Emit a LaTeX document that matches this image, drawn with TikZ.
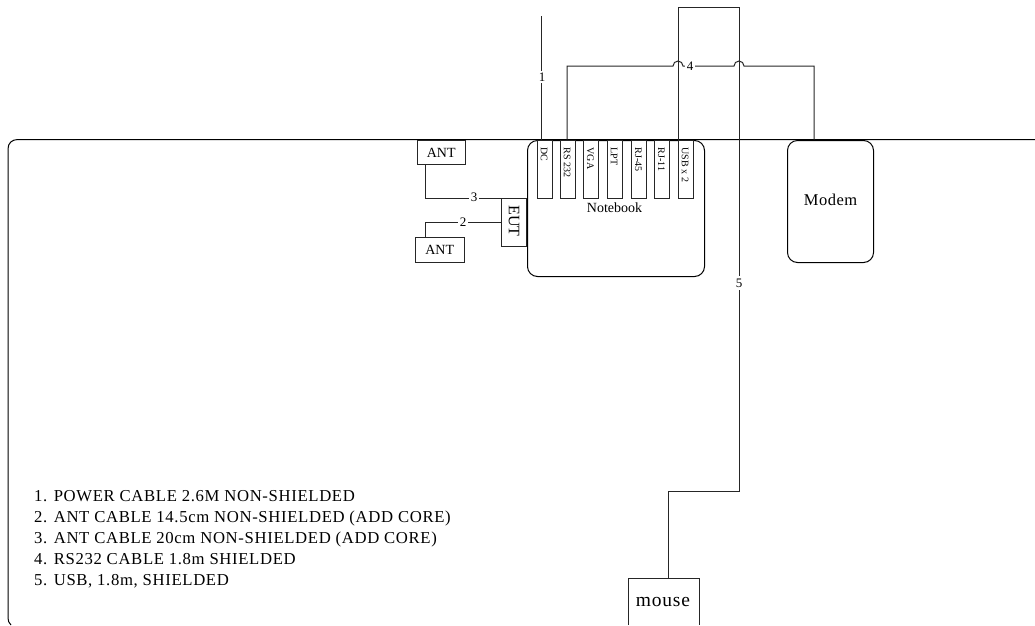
\documentclass[tikz,border=0pt]{standalone}
\usepackage{fontspec}
\setmainfont{Liberation Serif}
\newcommand{\fsz}[1]{\fontsize{#1}{#1}\selectfont}
\tikzset{
  wire/.style={draw=black!85,line width=1pt},
  boxnode/.style={draw=black!85,line width=1pt,fill=white,inner sep=0pt,anchor=north west},
  port/.style={boxnode,minimum width=15.5pt,minimum height=58pt},
  porttext/.style={rotate=-90,font=\fsz{10},inner sep=0pt},
  roundbox/.style={draw=black,line width=1pt,fill=white,rounded corners=10pt,inner sep=0pt,anchor=north west},
  wlabel/.style={fill=white,font=\fsz{13},inner sep=1.5pt},
}
\begin{document}
\begin{tikzpicture}[x=1pt,y=-1pt]
\useasboundingbox (0,0) rectangle (1035,625);
% outer frame
\coordinate (frameR) at (1035,139.5);
\coordinate (frameB) at (11,625);
\draw[draw=black,line width=1pt] (frameR) -- (18,139.5) .. controls (12,139.5) and (8,143) .. (8,149) -- (8,618) .. controls (8,621) and (9,623) .. (frameB);
% notebook and others
\node[roundbox,minimum width=177pt,minimum height=136pt] (nb) at (527,140) {};
\node[font=\fsz{14},inner sep=0pt] (nbt) at (614.5,207.5) {Notebook};
\node[roundbox,minimum width=86pt,minimum height=122pt] (modem) at (787,140) {};
\node[font=\fsz{16.5},inner sep=0pt] (modemt) at (830.5,200) {\addfontfeature{LetterSpace=3}Modem};
\node[font=\fsz{19.5},inner sep=0pt] (mouse) at (663,602) {\addfontfeature{LetterSpace=4}mouse};
\coordinate (mL) at (628,625);
\coordinate (mR) at (699,625);
\coordinate (mTL) at (628,578);
\coordinate (mTR) at (699,578);
\draw[wire] (mL) -- (mTL) -- (mTR) -- (mR);
% ports
\foreach \n/\x/\t in {dc/536.5/DC,rs/559.5/RS 232,vga/582.5/VGA,lpt/606.5/LPT,rja/630.5/RJ-45,rjb/653.5/RJ-11,usb/677.5/USB x 2}{
  \node[port] (\n) at (\x,140) {};
  \node[porttext,anchor=west] (\n t) at (\x+7.75,147.5) {\t};
}
% ants
\node[boxnode,minimum width=48.5pt,minimum height=24pt,font=\fsz{14}] (anta) at (416.5,140) {ANT};
\node[boxnode,minimum width=48.5pt,minimum height=25pt,font=\fsz{14}] (antb) at (415,237) {ANT};
\node[boxnode,minimum width=24.5pt,minimum height=48pt] (eut) at (501,198) {};
\node[rotate=-90,font=\fsz{16},inner sep=0pt] (euttext) at (514,221) {EUT};
% wire 1
\coordinate (w1top) at (541.5,16);
\draw[wire] (w1top) -- (541.5,140) coordinate (w1end);
\node[wlabel,inner xsep=1pt] (l1) at (542,77) {1};
% wire 4
\coordinate (w4a) at (567,66);
\coordinate (w4b) at (814,66);
\draw[wire] (567,139.5) -- (w4a) -- (673,66) arc[start angle=180,end angle=0,radius=5pt]
  -- (734,66) arc[start angle=180,end angle=0,radius=5pt] -- (w4b) -- (814,139.5);
\node[wlabel,inner ysep=0pt] (l4) at (690,66) {4};
% wire 5
\coordinate (w5a) at (678,7);
\coordinate (w5b) at (739,7);
\coordinate (w5c) at (739,491);
\coordinate (w5d) at (668,491);
\draw[wire] (678,140) -- (w5a) -- (w5b) -- (w5c) -- (w5d) -- (668,578);
\node[wlabel,inner xsep=1pt,inner ysep=3pt] (l5) at (739,283) {5};
% wire 3
\coordinate (w3a) at (425.5,198);
\draw[wire] (425.5,164) -- (w3a) -- (526,198);
\node[wlabel,inner ysep=0pt] (l3) at (474,197.5) {3};
% wire 2
\coordinate (w2a) at (425.5,222);
\draw[wire] (425.5,237) -- (w2a) -- (501,222);
\node[wlabel,inner ysep=0pt] (l2) at (463,222) {2};
% legend
\node[anchor=north west,align=left,font=\fontsize{16.7}{21}\selectfont\addfontfeature{LetterSpace=3.9},inner sep=0pt] (legend) at (34,490) {%
1. POWER CABLE 2.6M NON-SHIELDED\\
2. ANT CABLE 14.5cm NON-SHIELDED (ADD CORE)\\
3. ANT CABLE 20cm NON-SHIELDED (ADD CORE)\\
4. RS232 CABLE 1.8m SHIELDED\\
5. USB, 1.8m, SHIELDED};
\end{tikzpicture}
\end{document}
